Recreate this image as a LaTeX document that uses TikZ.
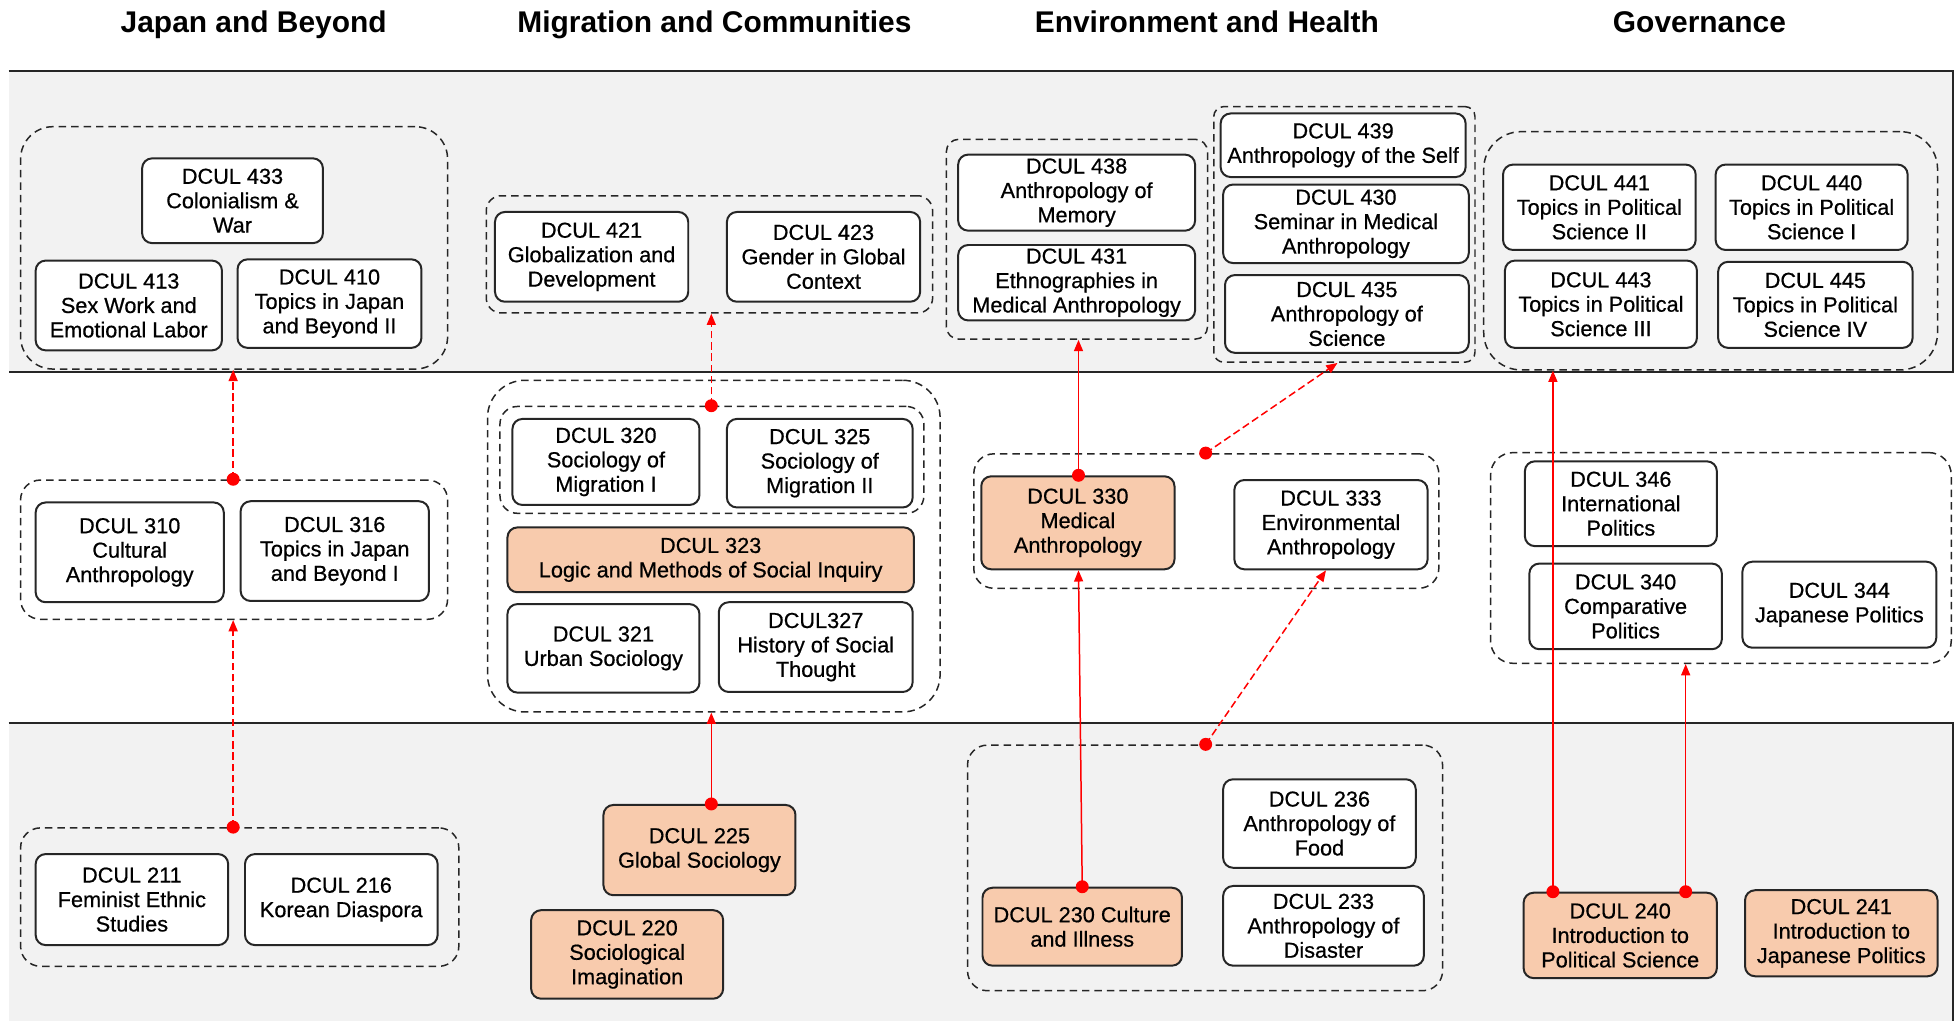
\documentclass[tikz,border=0pt]{standalone}
\usepackage{fontspec}
\setmainfont{Liberation Sans}
\newfontfamily\boxfont[FakeBold=0.6]{Liberation Sans}
\usetikzlibrary{arrows.meta}
\definecolor{peach}{HTML}{F8CBAD}
\definecolor{bandgray}{HTML}{F2F2F2}
\definecolor{redl}{HTML}{FF0000}
\definecolor{edge}{HTML}{262626}
\newcommand\bx[7]{\node[#1, minimum width={(#5-#3)*0.5pt}, minimum height={(#6-#4)*0.5pt}] (#2) at ({(#3+#5)/2},{(#4+#6)/2}) {#7};}
\newcommand\gp[6]{\node[grp, rounded corners=#6, minimum width={(#4-#2)*0.5pt}, minimum height={(#5-#3)*0.5pt}] (#1) at ({(#2+#4)/2},{(#3+#5)/2}) {};}
\newcommand\lnk[3]{\draw[#1] #2 -- #3; \fill[redl] #2 circle[radius=2.6pt];}
\begin{document}
\begin{tikzpicture}[x=0.5pt,y=-0.5pt,
  crs/.style={draw=edge, line width=0.8pt, rounded corners=4pt, fill=white, align=center, inner sep=0pt, font=\boxfont\fontsize{8.7}{9.8}\selectfont},
  core/.style={crs, fill=peach},
  grp/.style={draw=black!85, line width=0.6pt, dash pattern=on 3pt off 2pt, inner sep=0pt},
  ttl/.style={font=\fontsize{12}{14}\selectfont\bfseries, anchor=base, inner sep=0pt},
  bandline/.style={draw=black!85, line width=0.8pt},
  link/.style={draw=redl, line width=0.6pt, -{Triangle[length=4.5pt,width=3.6pt]}},
  dlink/.style={link, dash pattern=on 3pt off 1.5pt},
]
\useasboundingbox (0,0) rectangle (1568,819);
% bands
\fill[bandgray] (7,57) rectangle (1566,298);
\draw[bandline] (7,57) -- (1566,57) -- (1566,298) -- (7,298);
\fill[bandgray] (7,580) rectangle (1566,819);
\draw[bandline] (7,580) -- (1566,580) -- (1566,819);
% titles
\node[ttl] (t1) at (203.5,26) {Japan and Beyond};
\node[ttl] (t2) at (573,26) {Migration and Communities};
\node[ttl] (t3) at (968,26) {Environment and Health};
\node[ttl] (t4) at (1363,26) {Governance};
% groups
\gp{g4j}{16.5}{101.6}{359}{296}{13pt}
\gp{g3j}{16.5}{385}{359}{496.7}{8pt}
\gp{g2j}{16.5}{664}{368}{775}{8pt}
\gp{g4m}{390}{157}{748}{251}{6pt}
\gp{g3mo}{391}{305}{754}{571}{15pt}
\gp{g3mi}{401}{326}{741}{411.7}{7pt}
\gp{g4ea}{759}{111.7}{968.5}{272}{5pt}
\gp{g4eb}{973.5}{85.5}{1183}{290.5}{4pt}
\gp{g3e}{781}{364}{1154}{471.8}{8pt}
\gp{g2e}{776}{597.6}{1157}{794.6}{8pt}
\gp{g4g}{1190}{105.6}{1554}{296.7}{15pt}
\gp{g3g}{1195.5}{363}{1565}{532}{9pt}
% 400-level
\bx{crs}{n433}{114}{127}{259}{195}{DCUL 433\\Colonialism \&\\War}
\bx{crs}{n413}{28.6}{209}{178}{281}{DCUL 413\\Sex Work and\\Emotional Labor}
\bx{crs}{n410}{190.5}{208}{338}{279}{DCUL 410\\Topics in Japan\\and Beyond II}
\bx{crs}{n421}{397}{170}{552}{242}{DCUL 421\\Globalization and\\Development}
\bx{crs}{n423}{583}{170}{738}{242}{DCUL 423\\Gender in Global\\Context}
\bx{crs}{n438}{768.5}{124}{958.5}{185}{DCUL 438\\Anthropology of\\Memory}
\bx{crs}{n431}{768.5}{196.5}{958.5}{257}{DCUL 431\\Ethnographies in\\Medical Anthropology}
\bx{crs}{n439}{979}{91}{1175.5}{142}{DCUL 439\\Anthropology of the Self}
\bx{crs}{n430}{981}{148}{1178}{211}{DCUL 430\\Seminar in Medical\\Anthropology}
\bx{crs}{n435}{982.5}{220.6}{1178}{283}{DCUL 435\\Anthropology of\\Science}
\bx{crs}{n441}{1205.5}{132}{1360}{200.5}{DCUL 441\\Topics in Political\\Science II}
\bx{crs}{n440}{1376}{132}{1530}{200.5}{DCUL 440\\Topics in Political\\Science I}
\bx{crs}{n443}{1207}{209}{1361}{279}{DCUL 443\\Topics in Political\\Science III}
\bx{crs}{n445}{1378}{210}{1534}{279}{DCUL 445\\Topics in Political\\Science IV}
% 300-level
\bx{crs}{n310}{28.6}{403}{179.5}{483}{DCUL 310\\Cultural\\Anthropology}
\bx{crs}{n316}{193}{402}{344}{482}{DCUL 316\\Topics in Japan\\and Beyond I}
\bx{crs}{n320}{411}{336}{561}{405}{DCUL 320\\Sociology of\\Migration I}
\bx{crs}{n325}{583}{336}{732}{407}{DCUL 325\\Sociology of\\Migration II}
\bx{core}{n323}{407}{423}{733}{475}{DCUL 323\\Logic and Methods of Social Inquiry}
\bx{crs}{n321}{407}{484.5}{561}{555.5}{DCUL 321\\Urban Sociology}
\bx{crs}{n327}{576.5}{483}{732}{555}{DCUL327\\History of Social\\Thought}
\bx{core}{n330}{787}{382}{942}{456.6}{DCUL 330\\Medical\\Anthropology}
\bx{crs}{n333}{990}{385}{1145}{456.6}{DCUL 333\\Environmental\\Anthropology}
\bx{crs}{n346}{1223}{370}{1377}{438}{DCUL 346\\International\\Politics}
\bx{crs}{n340}{1226.6}{452}{1381}{520.7}{DCUL 340\\Comparative\\Politics}
\bx{crs}{n344}{1397.5}{450.5}{1553}{519.5}{DCUL 344\\Japanese Politics}
% 200-level
\bx{crs}{n211}{28.6}{685}{183}{758}{DCUL 211\\Feminist Ethnic\\Studies}
\bx{crs}{n216}{196.5}{685}{351}{758}{DCUL 216\\Korean Diaspora}
\bx{core}{n225}{484}{645.6}{638}{718}{DCUL 225\\Global Sociology}
\bx{core}{n220}{426}{730}{580}{801}{DCUL 220\\Sociological\\Imagination}
\bx{crs}{n236}{981}{625}{1135.5}{696}{DCUL 236\\Anthropology of\\Food}
\bx{crs}{n233}{981}{710.6}{1142}{774.5}{DCUL 233\\Anthropology of\\Disaster}
\bx{core}{n230}{788}{712}{948}{774.5}{DCUL 230 Culture\\and Illness}
\bx{core}{n240}{1222}{716}{1377}{784.5}{DCUL 240\\Introduction to\\Political Science}
\bx{core}{n241}{1399.6}{714}{1554}{783}{DCUL 241\\Introduction to\\Japanese Politics}
% connector columns
\coordinate (xa) at (187,0);
\coordinate (xb) at (570.5,0);
\coordinate (xc1) at (868,0);
\coordinate (xc2) at (865,0);
\coordinate (xc3) at (967,0);
\coordinate (xc4) at (1072.7,0);
\coordinate (xc5) at (1063.5,0);
\coordinate (xd1) at (1245.5,0);
\coordinate (xd2) at (1352,0);
% connectors
\lnk{dlink}{(g2j.north -| xa)}{(g3j.south -| xa)}
\lnk{dlink}{(g3j.north -| xa)}{(g4j.south -| xa)}
\lnk{link}{(n225.north -| xb)}{(g3mo.south -| xb)}
\lnk{dlink}{(g3mi.north -| xb)}{(g4m.south -| xb)}
\lnk{link}{(n230.north -| xc1)}{(n330.south -| xc2)}
\lnk{link}{(n330.north -| xc2)}{(g4ea.south -| xc2)}
\lnk{dlink}{(g3e.north -| xc3)}{(g4eb.south -| xc4)}
\lnk{dlink}{(g2e.north -| xc3)}{(n333.south -| xc5)}
\lnk{link}{(n240.north -| xd1)}{(g4g.south -| xd1)}
\lnk{link}{(n240.north -| xd2)}{(g3g.south -| xd2)}
\end{tikzpicture}
\end{document}
